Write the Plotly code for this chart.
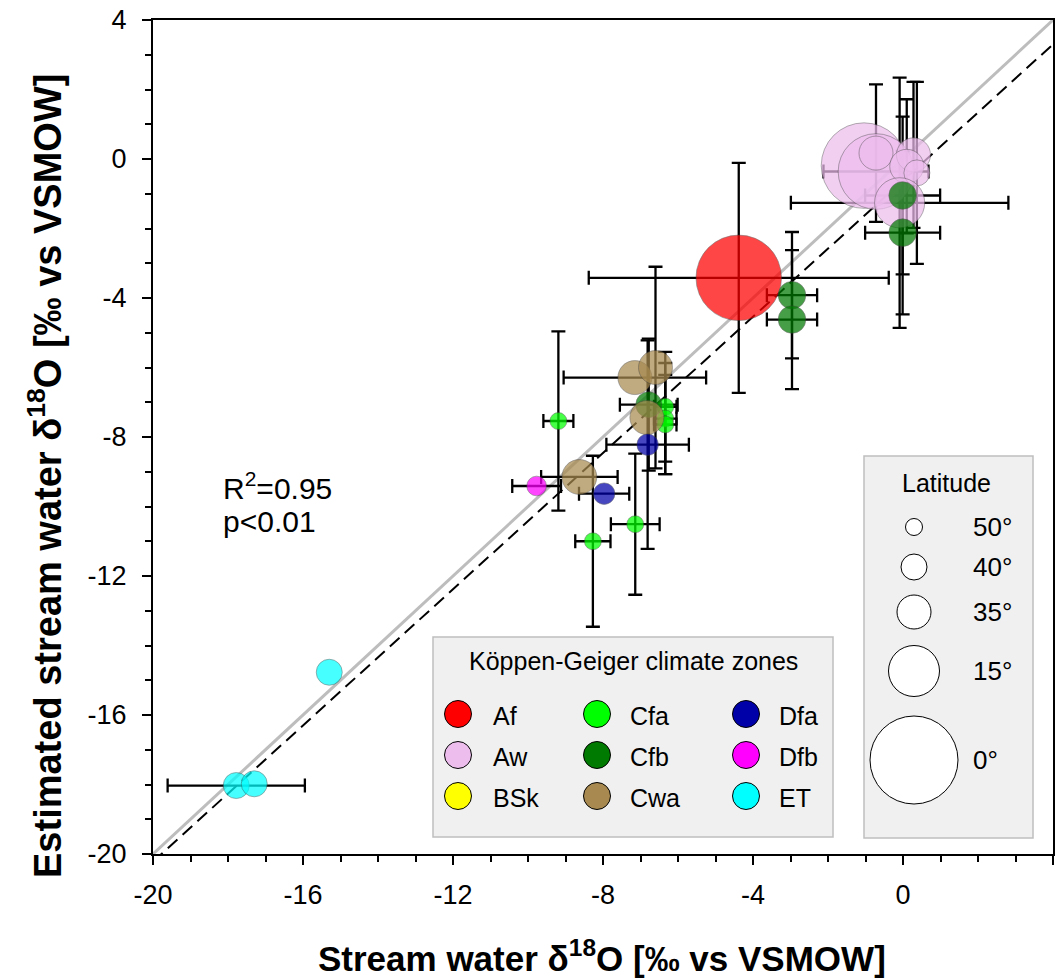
import numpy as np
import plotly.graph_objects as go

# ------------------------------------------------------------------ data
zone_names = ["Af", "Aw", "BSk", "Cfa", "Cfb", "Cwa", "Dfa", "Dfb", "ET"]

af_x = [-4.38]
af_y = [-3.42]
af_xerr = [4.0]
af_yerr = [3.31]
af_lat = [1]

aw_x = [-1.04, -0.72, -0.72, 0.28, 0.10, 0.37, -0.09]
aw_y = [-0.19, -0.36, 0.17, 0.12, -0.21, -0.40, -1.26]
aw_xerr = [0, 1.4, 0, 0, 0, 0, 2.9]
aw_yerr = [0, 0, 1.98, 2.1, 1.93, 2.62, 3.6]
aw_lat = [1, 5, 35, 35, 35, 40, 16]

bsk_x, bsk_y, bsk_xerr, bsk_yerr, bsk_lat = [], [], [], [], []

cfa_x = [-9.19, -8.27, -7.14, -6.34, -6.34, -6.34]
cfa_y = [-7.54, -11.0, -10.51, -7.13, -7.47, -7.64]
cfa_xerr = [0.4, 0.47, 0.65, 0.3, 0.3, 0.3]
cfa_yerr = [2.58, 2.46, 2.03, 1.58, 1.6, 1.43]
cfa_lat = [50, 50, 50, 50, 50, 50]

cfb_x = [-2.96, -2.96, -0.01, -0.01, -6.78]
cfb_y = [-3.92, -4.62, -1.05, -2.12, -7.07]
cfb_xerr = [0.67, 0.67, 1.0, 1.0, 0.77]
cfb_yerr = [1.82, 2.0, 2.27, 2.35, 1.9]
cfb_lat = [39, 39, 39, 39, 40]

cwa_x = [-7.15, -6.6, -6.83, -8.63]
cwa_y = [-6.29, -6.0, -7.44, -9.15]
cwa_xerr = [1.9, 0, 0, 1.02]
cwa_yerr = [0, 2.9, 0, 0]
cwa_lat = [35, 35, 35, 34]

dfa_x = [-6.81, -7.97]
dfa_y = [-8.22, -9.63]
dfa_xerr = [1.1, 0.67]
dfa_yerr = [3.0, 0]
dfa_lat = [45, 45]

dfb_x = [-9.77]
dfb_y = [-9.41]
dfb_xerr = [0.65]
dfb_yerr = [0]
dfb_lat = [47]

et_x = [-15.3, -17.78, -17.3]
et_y = [-14.77, -18.03, -17.98]
et_xerr = [0, 1.83, 0]
et_yerr = [0, 0, 0]
et_lat = [40, 40, 40]

# regression line (estimated) and statistics
reg_slope = 0.98
reg_intercept = -0.62
r2_text = "R<sup>2</sup>=0.95"
p_text = "p<0.01"

axis_ticks = [-20, -16, -12, -8, -4, 0, 4]
axis_ticktext = ["-20", "-16", "-12", "-8", "-4", "0", "4"]

legend_lats = [50, 40, 35, 15, 0]
legend_lat_labels = ["50°", "40°", "35°", "15°", "0°"]

# ------------------------------------------------------------------ style
zone_fill = {
    "Af": "#FF0000", "Aw": "#EDBDED", "BSk": "#FFFF00",
    "Cfa": "#00FF00", "Cfb": "#007A00", "Cwa": "#A88A50",
    "Dfa": "#0000A8", "Dfb": "#FF00FF", "ET": "#00FFFF",
}
lat_ref = [0, 15, 35, 40, 50]
diam_ref = [88, 51, 34, 26, 17]


def lat_to_size(lats):
    return list(np.interp(np.asarray(lats, dtype=float), lat_ref, diam_ref))


zone_data = {
    "Af": (af_x, af_y, af_xerr, af_yerr, af_lat),
    "Aw": (aw_x, aw_y, aw_xerr, aw_yerr, aw_lat),
    "BSk": (bsk_x, bsk_y, bsk_xerr, bsk_yerr, bsk_lat),
    "Cfa": (cfa_x, cfa_y, cfa_xerr, cfa_yerr, cfa_lat),
    "Cfb": (cfb_x, cfb_y, cfb_xerr, cfb_yerr, cfb_lat),
    "Cwa": (cwa_x, cwa_y, cwa_xerr, cwa_yerr, cwa_lat),
    "Dfa": (dfa_x, dfa_y, dfa_xerr, dfa_yerr, dfa_lat),
    "Dfb": (dfb_x, dfb_y, dfb_xerr, dfb_yerr, dfb_lat),
    "ET": (et_x, et_y, et_xerr, et_yerr, et_lat),
}

FONT = "Liberation Sans, Arial, sans-serif"
W, H = 1059, 979
L, R, T, B = 153, 6, 20, 125
PW, PH = W - L - R, H - T - B


def px(xp):
    return (xp - L) / PW


def py(yp):
    return (H - B - yp) / PH


fig = go.Figure()

# 1:1 line and regression line
lx = [axis_ticks[0], axis_ticks[-1]]
fig.add_trace(go.Scatter(x=lx, y=lx, mode="lines",
                         line=dict(color="#BDBDBD", width=3),
                         showlegend=False, hoverinfo="skip"))
fig.add_trace(go.Scatter(x=lx, y=[reg_slope * v + reg_intercept for v in lx],
                         mode="lines",
                         line=dict(color="black", width=2, dash="13px,7px"),
                         showlegend=False, hoverinfo="skip"))

# error bars (x and y separately, only where present)
ex, ey, exe = [], [], []
yx, yy, yye = [], [], []
for z in zone_names:
    xs, ys, xe, ye, _ = zone_data[z]
    for i in range(len(xs)):
        if xe[i] > 0:
            ex.append(xs[i]); ey.append(ys[i]); exe.append(xe[i])
        if ye[i] > 0:
            yx.append(xs[i]); yy.append(ys[i]); yye.append(ye[i])

fig.add_trace(go.Scatter(x=ex, y=ey, mode="markers",
                         marker=dict(size=1, color="rgba(0,0,0,0)"),
                         error_x=dict(type="data", array=exe, color="black",
                                      thickness=2.3, width=7),
                         showlegend=False, hoverinfo="skip"))
fig.add_trace(go.Scatter(x=yx, y=yy, mode="markers",
                         marker=dict(size=1, color="rgba(0,0,0,0)"),
                         error_y=dict(type="data", array=yye, color="black",
                                      thickness=2.3, width=7),
                         showlegend=False, hoverinfo="skip"))

# bubbles
for z in zone_names:
    xs, ys, xe, ye, lats = zone_data[z]
    if not xs:
        continue
    fig.add_trace(go.Scatter(
        x=xs, y=ys, mode="markers", name=z, showlegend=False,
        marker=dict(size=lat_to_size(lats), sizemode="diameter",
                    color=zone_fill[z], opacity=0.72,
                    line=dict(color="rgba(60,60,60,0.55)", width=1)),
    ))

shapes = []
ann = []

# Köppen legend box
shapes.append(dict(type="rect", xref="paper", yref="paper",
                   x0=px(433), x1=px(833), y0=py(837), y1=py(637),
                   fillcolor="#F0F0F0", line=dict(color="#BEBEBE", width=1.5),
                   layer="above"))
ann.append(dict(x=px(633), y=py(661), xref="paper", yref="paper",
                text="Köppen-Geiger climate zones", showarrow=False,
                font=dict(family=FONT, size=25, color="black"),
                xanchor="center", yanchor="middle"))
col_x = [458, 597, 746]
row_y = [714, 755, 796]
lab_x = [491, 628, 777]
for k, z in enumerate(zone_names):
    c, r = divmod(k, 3)
    cx, cy = col_x[c], row_y[r]
    shapes.append(dict(type="circle", xref="paper", yref="paper",
                       xsizemode="pixel", ysizemode="pixel",
                       xanchor=px(cx), yanchor=py(cy),
                       x0=-13.5, x1=13.5, y0=-13.5, y1=13.5,
                       fillcolor=zone_fill[z], line=dict(color="black", width=1),
                       layer="above"))
    ann.append(dict(x=px(lab_x[c]), y=py(cy + 2), xref="paper",
                    yref="paper", text=z, showarrow=False,
                    font=dict(family=FONT, size=25, color="black"),
                    xanchor="left", yanchor="middle"))

# Latitude legend box
shapes.append(dict(type="rect", xref="paper", yref="paper",
                   x0=px(864), x1=px(1033), y0=py(838), y1=py(456),
                   fillcolor="#F0F0F0", line=dict(color="#BEBEBE", width=1.5),
                   layer="above"))
ann.append(dict(x=px(946), y=py(483), xref="paper", yref="paper",
                text="Latitude", showarrow=False,
                font=dict(family=FONT, size=25, color="black"),
                xanchor="center", yanchor="middle"))
lat_cy = [527, 567, 612, 671, 760]
for lat, lab, cy, d in zip(legend_lats, legend_lat_labels, lat_cy,
                           lat_to_size(legend_lats)):
    r = d / 2
    shapes.append(dict(type="circle", xref="paper", yref="paper",
                       xsizemode="pixel", ysizemode="pixel",
                       xanchor=px(914), yanchor=py(cy),
                       x0=-r, x1=r, y0=-r, y1=r,
                       fillcolor="white", line=dict(color="black", width=1),
                       layer="above"))
    ann.append(dict(x=px(971), y=py(cy), xref="paper", yref="paper",
                    text=lab, showarrow=False,
                    font=dict(family=FONT, size=26, color="black"),
                    xanchor="left", yanchor="middle"))

# statistics text
ann.append(dict(x=px(221), y=py(486), xref="paper", yref="paper", text=r2_text,
                showarrow=False, font=dict(family=FONT, size=30, color="black"),
                xanchor="left", yanchor="middle"))
ann.append(dict(x=px(221), y=py(521), xref="paper", yref="paper", text=p_text,
                showarrow=False, font=dict(family=FONT, size=30, color="black"),
                xanchor="left", yanchor="middle"))

# axis titles
ann.append(dict(x=px(602), y=py(956), xref="paper", yref="paper",
                text="<b>Stream water δ<sup>18</sup>O [‰ vs VSMOW]</b>",
                showarrow=False, font=dict(family=FONT, size=35, color="black"),
                xanchor="center", yanchor="middle"))
ann.append(dict(x=px(45), y=py(476), xref="paper", yref="paper",
                text="<b>Estimated stream water δ<sup>18</sup>O [‰ vs VSMOW]</b>",
                showarrow=False, font=dict(family=FONT, size=38, color="black"),
                textangle=-90, xanchor="center", yanchor="middle"))

axis_common = dict(
    range=[axis_ticks[0], axis_ticks[-1]], tickmode="array",
    tickvals=axis_ticks, ticktext=axis_ticktext,
    ticks="outside", ticklen=9, tickwidth=2, tickcolor="black",
    showline=True, linewidth=2, linecolor="black", mirror=True,
    showgrid=False, zeroline=False, automargin=False,
    tickfont=dict(family=FONT, size=27, color="black"),
    minor=dict(tickmode="array", tickvals=list(range(axis_ticks[0], axis_ticks[-1] + 1)),
               ticks="outside", ticklen=6, tickwidth=2, tickcolor="black",
               showgrid=False),
)

fig.update_layout(
    width=W, height=H,
    margin=dict(l=L, r=R, t=T, b=B),
    paper_bgcolor="white", plot_bgcolor="white",
    xaxis=dict(**axis_common, ticklabelstandoff=7),
    yaxis=dict(**axis_common, ticklabelstandoff=10),
    shapes=shapes, annotations=ann, showlegend=False,
)

fig.write_html(
    "out.html",
    config={"displayModeBar": False},
    post_script="document.body.style.margin='0';document.body.style.padding='0';"
                "document.documentElement.style.overflow='hidden';",
)
